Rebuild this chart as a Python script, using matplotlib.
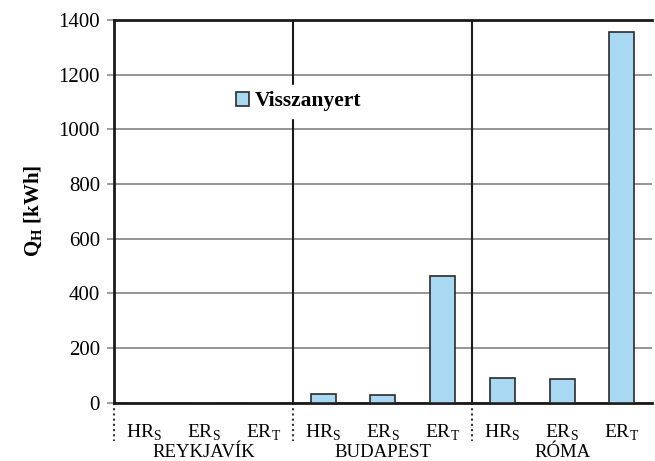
import matplotlib.pyplot as plt
from matplotlib.patches import Patch

plt.rcParams["font.family"] = ["Liberation Serif", "DejaVu Serif"]
plt.rcParams["mathtext.fontset"] = "custom"
plt.rcParams["mathtext.rm"] = "Liberation Serif"
plt.rcParams["mathtext.bf"] = "Liberation Serif:bold"

cities = ["REYKJAVÍK", "BUDAPEST", "RÓMA"]
cases = ["HR$_\\mathrm{S}$", "ER$_\\mathrm{S}$", "ER$_\\mathrm{T}$"]
recovered = [0, 0, 0, 32, 29, 465, 90, 87, 1355]  # Visszanyert, kWh
yticks = [0, 200, 400, 600, 800, 1000, 1200, 1400]

fig = plt.figure(figsize=(6.55, 4.61), dpi=100)
ax = fig.add_axes([0.174, 0.126, 0.821, 0.831])

x = list(range(len(recovered)))
ax.bar(x, recovered, width=0.42, color="#a9d8f2", edgecolor="#2b2b2b", linewidth=1.2,
       zorder=3, label="Visszanyert")

ax.set_xlim(-0.5, len(recovered) - 0.5)
ax.set_ylim(0, 1400)
ax.set_yticks(yticks)
ax.yaxis.grid(True, color="#8c8c8c", linewidth=1.3, zorder=0)
ax.set_axisbelow(True)
ax.tick_params(axis="y", labelsize=15, length=5, color="#8c8c8c", width=1.2, pad=5)

ax.set_xticks(x)
ax.set_xticklabels(cases * len(cities), fontsize=14)
ax.tick_params(axis="x", length=0, pad=14)

for side in ["left", "bottom", "top"]:
    ax.spines[side].set_linewidth(2)
    ax.spines[side].set_color("#1a1a1a")
ax.spines["right"].set_visible(False)

trans = ax.get_xaxis_transform()
for i in range(len(cities)):
    left = i * 3 - 0.5
    if i > 0:
        ax.axvline(left, color="#1a1a1a", linewidth=1.5, zorder=2)
    ax.plot([left, left], [0, -0.1], transform=trans, color="#333333",
            linestyle=(0, (1, 1.5)), linewidth=1.5, clip_on=False)
    ax.text(i * 3 + 1, -0.142, cities[i], transform=trans, ha="center", va="baseline",
            fontsize=13.5)

ax.set_ylabel("Q$_\\mathbf{H}$ [kWh]", fontsize=15, fontweight="bold", labelpad=10)

handle = Patch(facecolor="#a9d8f2", edgecolor="#2b2b2b", linewidth=1.2)
leg = ax.legend([handle], ["Visszanyert"], loc="center left", bbox_to_anchor=(0.195, 0.787),
                frameon=True, framealpha=1, edgecolor="white", fancybox=False,
                handlelength=0.6, handleheight=0.6, handletextpad=0.25, borderpad=0.3,
                prop={"size": 15.5, "weight": "bold"})
leg.set_zorder(5)

fig.savefig("out.png", dpi=100)
